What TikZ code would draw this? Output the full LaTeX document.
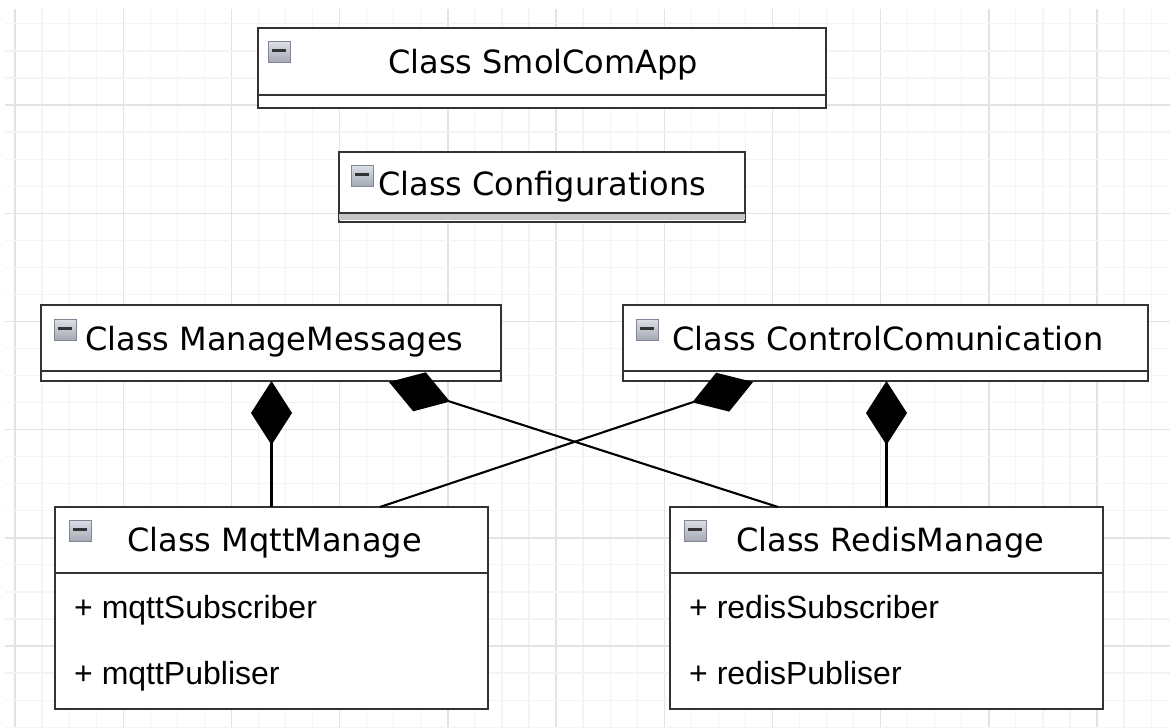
\documentclass[tikz,border=0pt]{standalone}
\usepackage{fontspec}
\setmainfont{DejaVu Sans}
\newfontfamily\attrfont{Liberation Sans}
\usetikzlibrary{arrows.meta}
\definecolor{boxline}{HTML}{333333}
\definecolor{gridminor}{HTML}{F4F4F4}
\definecolor{gridmajor}{HTML}{E3E3E3}
\definecolor{icontop}{HTML}{DCDFE5}
\definecolor{iconbot}{HTML}{A3A8B3}
\definecolor{iconedge}{HTML}{7E8594}
\definecolor{emptycomp}{HTML}{C4C4C4}
\tikzset{
  classbox/.style={draw=boxline, line width=2.9pt, fill=white, rectangle,
    inner sep=0pt, outer sep=0pt},
  sepline/.style={draw=boxline, line width=2.9pt},
  title/.style={font=\fontsize{32}{38}\selectfont, text=black, inner sep=0pt,
    anchor=base west},
  member/.style={font=\attrfont\fontsize{32}{38}\selectfont, text=black,
    inner sep=0pt, anchor=base west},
  collapser/.style={rectangle, minimum width=22pt, minimum height=21pt,
    inner sep=0pt, draw=iconedge, line width=0.9pt,
    top color=icontop, bottom color=iconbot, anchor=north west,
    path picture={\draw[line width=3pt, draw=black!80]
      ([xshift=4pt,yshift=1pt]path picture bounding box.west) --
      ([xshift=-4pt,yshift=1pt]path picture bounding box.east);}},
  comp/.style={draw=black, line width=2.1pt,
    {Diamond[length=64pt,width=41pt]}-}
}
\begin{document}
\begin{tikzpicture}[x=1pt,y=-1pt]
\useasboundingbox (0,0) rectangle (1170,728);
\fill[white] (0,0) rectangle (1170,728);

% background grid
\foreach \k in {0,...,42}{
  \pgfmathsetmacro{\gx}{15+27.05*\k}
  \pgfmathtruncatemacro{\gm}{mod(\k,4)}
  \ifnum\gm=0
    \draw[gridmajor, line width=1.4pt] (\gx,9) -- (\gx,728);
  \else
    \draw[gridminor, line width=1.2pt] (\gx,9) -- (\gx,728);
  \fi
}
\foreach \k in {-3,...,23}{
  \pgfmathsetmacro{\gy}{105+27.05*\k}
  \pgfmathtruncatemacro{\gm}{mod(\k+40,4)}
  \ifnum\gm=0
    \draw[gridmajor, line width=1.4pt] (5,\gy) -- (1170,\gy);
  \else
    \draw[gridminor, line width=1.2pt] (5,\gy) -- (1170,\gy);
  \fi
}

% class boxes
\node[classbox, minimum width=568pt, minimum height=80pt] (app) at (542,68) {};
\draw[sepline] (app.west |- 0,95) -- (app.east |- 0,95);
\node[collapser] (appI) at (268,41) {};
\node[title] (appT) at (388,73) {Class SmolComApp};

\node[classbox, minimum width=406pt, minimum height=70pt] (conf) at (542,187) {};
\fill[emptycomp] (conf.west |- 0,214) rectangle (conf.east |- 0,220);
\draw[sepline] (conf.west |- 0,213) -- (conf.east |- 0,213);
\draw[sepline] (conf.south west) -- (conf.south east);
\node[collapser] (confI) at (351,165) {};
\node[title] (confT) at (378,195) {Class Configurations};

\node[classbox, minimum width=460pt, minimum height=76pt] (mm) at (271,343) {};
\draw[sepline] (mm.west |- 0,371) -- (mm.east |- 0,371);
\node[collapser] (mmI) at (54,319) {};
\node[title] (mmT) at (85,350) {Class ManageMessages};

\node[classbox, minimum width=525pt, minimum height=76pt] (cc) at (885.5,343) {};
\draw[sepline] (cc.west |- 0,371) -- (cc.east |- 0,371);
\node[collapser] (ccI) at (636,319) {};
\node[title] (ccT) at (672,350) {Class ControlComunication};

\node[classbox, minimum width=433pt, minimum height=202pt] (mqtt) at (271.5,608) {};
\draw[sepline] (mqtt.west |- 0,573) -- (mqtt.east |- 0,573);
\node[collapser] (mqttI) at (69,520) {};
\node[title] (mqttT) at (127,551) {Class MqttManage};
\node[member] (mqttS) at (74,618) {+ mqttSubscriber};
\node[member] (mqttP) at (74,684) {+ mqttPubliser};

\node[classbox, minimum width=433pt, minimum height=202pt] (redis) at (886.5,608) {};
\draw[sepline] (redis.west |- 0,573) -- (redis.east |- 0,573);
\node[collapser] (redisI) at (684,520) {};
\node[title] (redisT) at (736,551) {Class RedisManage};
\node[member] (redisS) at (689,618) {+ redisSubscriber};
\node[member] (redisP) at (689,684) {+ redisPubliser};

% composition connectors
\coordinate (mmX) at (389,382);
\coordinate (ccX) at (753,382);
\coordinate (redisX) at (778,507);
\coordinate (mqttX) at (380,507);
\draw[comp] (mm.south -| mqtt.north) -- (mqtt.north);
\draw[comp] (cc.south -| redis.north) -- (redis.north);
\draw[comp] (mmX) -- (redisX);
\draw[comp] (ccX) -- (mqttX);
\end{tikzpicture}
\end{document}
